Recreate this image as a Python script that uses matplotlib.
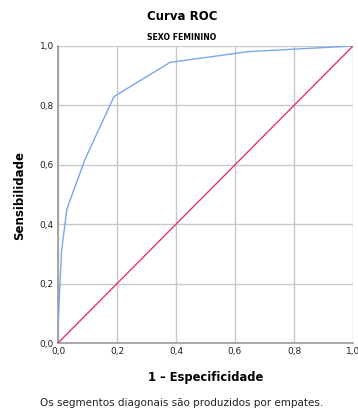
import matplotlib
matplotlib.use("Agg")
import matplotlib.pyplot as plt

# Data
fpr = [0.0, 0.0, 0.003, 0.012, 0.03, 0.09, 0.19, 0.38, 0.645, 1.0]
tpr = [0.0, 0.05, 0.12, 0.31, 0.45, 0.615, 0.83, 0.945, 0.981, 1.0]
ref_x = [0.0, 1.0]
ref_y = [0.0, 1.0]
ticks = [0.0, 0.2, 0.4, 0.6, 0.8, 1.0]
tick_labels = ["0,0", "0,2", "0,4", "0,6", "0,8", "1,0"]

plt.rcParams['font.family'] = ['DejaVu Sans']
fig = plt.figure(figsize=(3.58, 4.08), dpi=100)
ax = fig.add_axes([58/358, 1-343/408, 295/358, 297/408])

ax.plot(fpr, tpr, color="#7aa6ea", lw=1.0, zorder=3)
ax.plot(ref_x, ref_y, color="#e8336b", lw=1.0, zorder=3)

ax.set_xlim(0, 1)
ax.set_ylim(0, 1)
ax.set_xticks(ticks)
ax.set_yticks(ticks)
ax.set_xticklabels(tick_labels, fontsize=6.5, color="#222222")
ax.set_yticklabels(tick_labels, fontsize=6.5, color="#222222")
ax.tick_params(length=0, pad=3)
ax.grid(True, color="#c8c8c8", lw=1.0, zorder=0)
for s in ["top", "right"]:
    ax.spines[s].set_visible(False)
for s in ["left", "bottom"]:
    ax.spines[s].set_color("#9a9a9a")
    ax.spines[s].set_linewidth(1.2)

fig.text(182/358, 1-17/408, "Curva ROC", ha="center", va="center", fontsize=8.5, fontweight="bold")
fig.text(182/358, 1-38/408, "SEXO FEMININO", ha="center", va="center", fontsize=5.6, fontweight="bold")
fig.text(206/358, 1-377/408, "1 – Especificidade", ha="center", va="center", fontsize=8.3, fontweight="bold")
fig.text(20/358, 1-195/408, "Sensibilidade", ha="center", va="center", rotation=90, fontsize=8.5, fontweight="bold")
fig.text(40/358, 1-403/408, "Os segmentos diagonais são produzidos por empates.", ha="left", va="center", fontsize=7.5, color="#222222")

fig.savefig("out.png", dpi=100)
